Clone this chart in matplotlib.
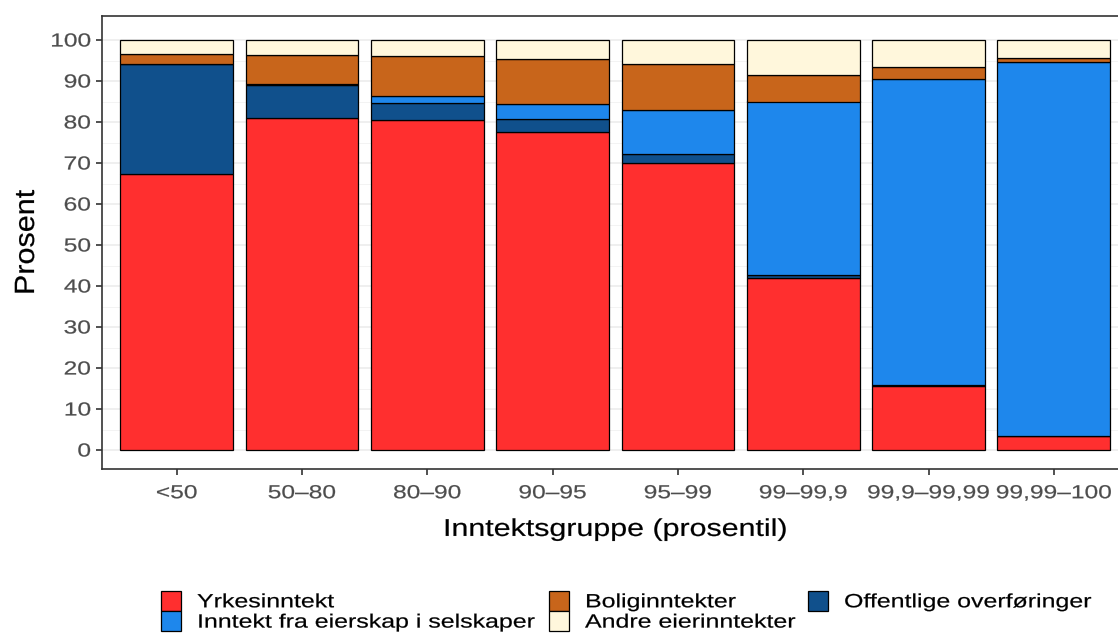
import matplotlib
matplotlib.use("Agg")
import matplotlib.pyplot as plt
import numpy as np
from matplotlib.patches import Patch
from matplotlib.patheffects import AbstractPathEffect
from matplotlib.transforms import Affine2D

plt.rcParams['font.family'] = ['Liberation Sans', 'DejaVu Sans']

groups = ["<50", "50–80", "80–90", "90–95", "95–99", "99–99,9", "99,9–99,99", "99,99–100"]
yrkes = [67.3, 81.0, 80.4, 77.6, 69.9, 41.9, 15.7, 3.5]
offentlige = [26.8, 8.0, 4.3, 3.2, 2.2, 0.9, 0.1, 0.0]
eierskap = [0.0, 0.3, 1.6, 3.5, 10.8, 42.2, 74.8, 91.1]
bolig = [2.6, 7.1, 9.7, 11.1, 11.2, 6.5, 2.7, 0.9]
andre = [3.3, 3.6, 4.0, 4.6, 5.9, 8.5, 6.8, 4.5]

series = [
    ("Yrkesinntekt", yrkes, "#FF2F2F"),
    ("Offentlige overføringer", offentlige, "#10508C"),
    ("Inntekt fra eierskap i selskaper", eierskap, "#1E87EC"),
    ("Boliginntekter", bolig, "#C8651B"),
    ("Andre eierinntekter", andre, "#FFF7DC"),
]


class Stretch(AbstractPathEffect):
    """Widen text along its baseline direction (and thicken strokes slightly)."""
    def __init__(self, sx, anchor="center", thicken=0.15):
        super().__init__()
        self.sx = sx
        self.anchor = anchor
        self.thicken = thicken

    def draw_path(self, renderer, gc, tpath, affine, rgbFace=None):
        ext = tpath.get_extents()
        if self.anchor == "left":
            a = 0.0
        elif self.anchor == "right":
            a = ext.x1
        else:
            a = (ext.x0 + ext.x1) / 2
        t = Affine2D().translate(-a, 0).scale(self.sx, 1).translate(a, 0) + affine
        gc0 = renderer.new_gc()
        gc0.copy_properties(gc)
        if rgbFace is not None and self.thicken > 0:
            gc0.set_linewidth(self.thicken)
            gc0.set_foreground(rgbFace)
        renderer.draw_path(gc0, tpath, t, rgbFace)
        gc0.restore()


W, H = 1118, 634
fig = plt.figure(figsize=(W / 100, H / 100), dpi=100)
left, right, top, bottom = 101.5, 1129, 16, 469
ax = fig.add_axes([left / W, 1 - bottom / H, (right - left) / W, (bottom - top) / H])

x = np.arange(len(groups))
base = np.zeros(len(groups))
handles = {}
for name, vals, col in series:
    v = np.array(vals)
    ax.bar(x, v, bottom=base, width=0.9, color=col, edgecolor="black", linewidth=0.9, zorder=3)
    base += v
    handles[name] = Patch(facecolor=col, edgecolor="black", linewidth=0.9)

ax.set_xlim(-0.6, len(groups) - 0.4)
ax.set_ylim(-19 / 4.1, 100 + 24 / 4.1)
ax.set_yticks(np.arange(0, 101, 10))
ax.set_yticks(np.arange(5, 100, 10), minor=True)
ax.yaxis.grid(True, which="major", color="#EBEBEB", linewidth=1.1, zorder=0)
ax.yaxis.grid(True, which="minor", color="#F3F3F3", linewidth=0.7, zorder=0)
ax.set_axisbelow(True)
ax.set_xticks(x)
ax.set_xticklabels(groups)
ax.tick_params(axis="both", colors="#333333", labelcolor="#4D4D4D", labelsize=13.6, length=4.2, width=1.2)
ax.tick_params(axis="x", pad=7.5)
ax.tick_params(axis="y", pad=3.5)
ax.tick_params(axis="y", which="minor", length=0)
for s in ax.spines.values():
    s.set_color("#333333")
    s.set_linewidth(1.2)

for lbl in ax.get_xticklabels():
    lbl.set_path_effects([Stretch(1.3, "center")])
for lbl in ax.get_yticklabels():
    lbl.set_path_effects([Stretch(1.3, "right")])

ax.set_ylabel("Prosent", fontsize=20, labelpad=14)
ax.yaxis.label.set_path_effects([Stretch(1.1, "center")])
ax.set_xlabel("Inntektsgruppe (prosentil)", fontsize=17.5, labelpad=12)
ax.xaxis.label.set_position(((615 - left) / (right - left), 0))
ax.xaxis.label.set_path_effects([Stretch(1.25, "center")])

columns = [
    (161, ["Yrkesinntekt", "Inntekt fra eierskap i selskaper"]),
    (549, ["Boliginntekter", "Andre eierinntekter"]),
    (808, ["Offentlige overføringer"]),
]
for xpix, names in columns:
    leg = fig.legend([handles[n] for n in names], names, ncol=1, loc="upper left",
                     bbox_to_anchor=(xpix / W, 1 - 591 / H), frameon=False, fontsize=13.8,
                     handlelength=1.05, handleheight=1.2, handletextpad=0.83,
                     labelspacing=0.0, borderpad=0.0, borderaxespad=0.0)
    for t in leg.get_texts():
        t.set_path_effects([Stretch(1.3, "left")])

fig.savefig("out.png", dpi=100)
